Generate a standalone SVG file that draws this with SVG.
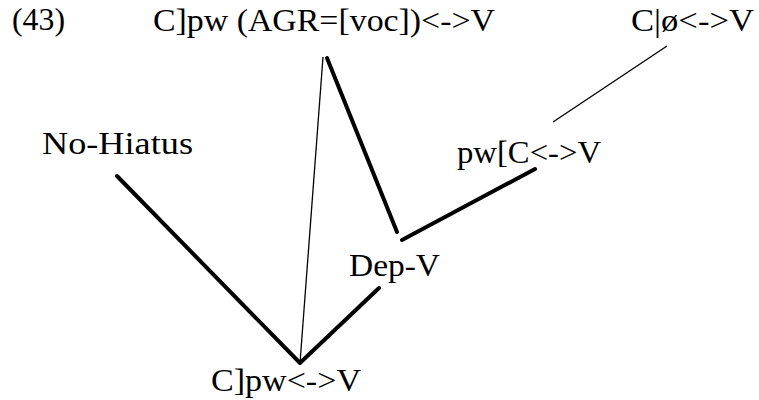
<svg xmlns="http://www.w3.org/2000/svg" width="759" height="400" viewBox="0 0 759 400">
<style>
text{font-family:"Liberation Serif","DejaVu Serif",serif;font-size:31px;fill:#000}
.thick{stroke:#000;stroke-width:4;stroke-linecap:round;fill:none}
.thin{stroke:#000;stroke-width:1.3;fill:none}
</style>
<rect width="759" height="400" fill="#fff"/>
<text x="12" y="30" textLength="53" lengthAdjust="spacingAndGlyphs">(43)</text>
<g id="connectors">
<line class="thick" x1="117" y1="176" x2="300" y2="363"/>
<line class="thin" x1="300" y1="363" x2="323" y2="57"/>
<line class="thick" x1="327" y1="58" x2="397" y2="232"/>
<line class="thick" x1="402" y1="240" x2="535" y2="169"/>
<line class="thick" x1="301" y1="362" x2="379" y2="288"/>
<line class="thin" x1="553" y1="122" x2="667" y2="46"/>
</g>
<g id="n-top"><text x="153" y="31" textLength="342" lengthAdjust="spacingAndGlyphs">C]pw (AGR=[voc])&lt;-&gt;V</text></g>
<g id="n-cphi"><text x="631" y="31" textLength="123" lengthAdjust="spacingAndGlyphs">C|ø&lt;-&gt;V</text></g>
<g id="n-nohiatus"><text x="42" y="154" textLength="151" lengthAdjust="spacingAndGlyphs">No-Hiatus</text></g>
<g id="n-pwc"><text x="457" y="163" textLength="144" lengthAdjust="spacingAndGlyphs">pw[C&lt;-&gt;V</text></g>
<g id="n-depv"><text x="349" y="276" textLength="91" lengthAdjust="spacingAndGlyphs">Dep-V</text></g>
<g id="n-bottom"><text x="211" y="391" textLength="150" lengthAdjust="spacingAndGlyphs">C]pw&lt;-&gt;V</text></g>
</svg>
